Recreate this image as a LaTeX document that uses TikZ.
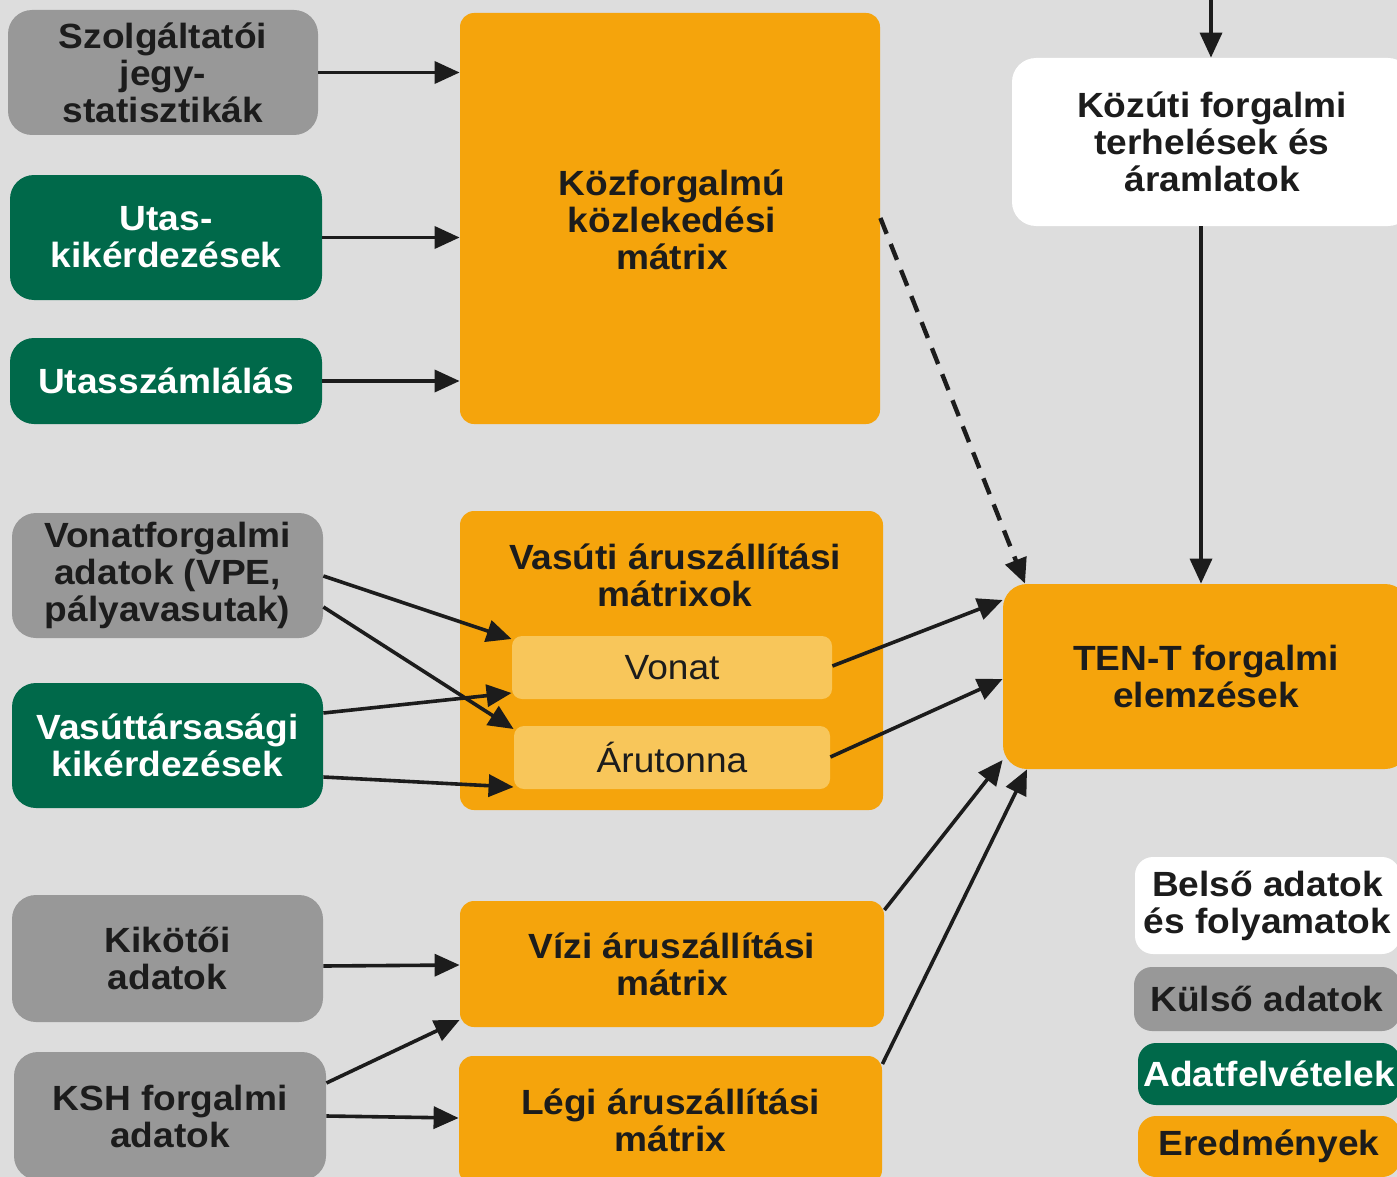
\documentclass[tikz,border=0pt]{standalone}
\usepackage{fontspec}
\setmainfont{Liberation Sans}[FakeStretch=1.06]
\usetikzlibrary{arrows.meta,calc}
\definecolor{bg}{RGB}{221,221,221}
\definecolor{greybox}{RGB}{152,152,152}
\definecolor{greenbox}{RGB}{0,105,74}
\definecolor{orangebox}{RGB}{245,164,12}
\definecolor{lightorange}{RGB}{248,198,90}
\definecolor{ink}{RGB}{28,28,28}
\begin{document}
\begin{tikzpicture}[x=0.5pt,y=-0.5pt,
  box/.style={rectangle,align=center,inner sep=0pt,text=ink,
    font=\fontsize{17.5}{18.5}\selectfont\bfseries},
  side/.style={box,rounded corners=12pt},
  gbox/.style={side,fill=greybox},
  grbox/.style={side,fill=greenbox,text=white},
  wbox/.style={side,fill=white},
  obox/.style={box,rounded corners=7pt,fill=orangebox},
  lobox/.style={box,rounded corners=5pt,fill=lightorange,font=\fontsize{17.5}{18.5}\selectfont},
  arr/.style={draw=ink,line width=1.8pt,-{Triangle[length=12.5pt,width=11pt]}},
  dasharr/.style={arr,line width=2.2pt,dash pattern=on 8.5pt off 5.5pt}
]
\clip (0,0) rectangle (1397,1177);
\fill[bg] (0,0) rectangle (1397,1177);

% left column
\node[gbox,minimum width=155pt,minimum height=62.5pt] (szolg) at (163,72.5) {Szolgáltatói\\jegy-\\statisztikák};
\node[grbox,minimum width=156pt,minimum height=62.5pt] (utask) at (166,237.5) {Utas-\\kikérdezések};
\node[grbox,minimum width=156pt,minimum height=43pt] (utassz) at (166,381) {Utasszámlálás};
\node[gbox,minimum width=155.5pt,minimum height=62.5pt] (vonatf) at (167.5,575.5) {Vonatforgalmi\\adatok (VPE,\\pályavasutak)};
\node[grbox,minimum width=155.5pt,minimum height=62.5pt] (vasutt) at (167.5,745.5) {Vasúttársasági\\kikérdezések};
\node[gbox,minimum width=155.5pt,minimum height=63.5pt] (kikotoi) at (167.5,958.5) {Kikötői\\adatok};
\node[gbox,minimum width=156pt,minimum height=64pt] (ksh) at (170,1116) {KSH forgalmi\\adatok};

% middle column
\node[obox,minimum width=210pt,minimum height=205.5pt] (kozf) at (670,218.5) {};
\node[box] (kozft) at (672,220) {Közforgalmú\\közlekedési\\mátrix};
\node[obox,minimum width=211.5pt,minimum height=149.5pt] (vasuti) at (671.5,660.5) {};
\node[box] (vasutit) at (675,575.5) {Vasúti áruszállítási\\mátrixok};
\node[lobox,minimum width=160pt,minimum height=31.5pt] (vonat) at (672,667.5) {Vonat};
\node[lobox,minimum width=158pt,minimum height=31.5pt] (aru) at (672,757.5) {Árutonna};
\node[obox,minimum width=212pt,minimum height=63pt] (vizi) at (672,964) {Vízi áruszállítási\\mátrix};
\node[obox,minimum width=211.5pt,minimum height=64pt] (legi) at (670.5,1120) {Légi áruszállítási\\mátrix};

% right column
\node[wbox,minimum width=200pt,minimum height=84pt] (kozut) at (1212,142) {Közúti forgalmi\\terhelések és\\áramlatok};
\node[obox,minimum width=203pt,minimum height=92.5pt,rounded corners=12pt] (tent) at (1206,676.5) {TEN-T forgalmi\\elemzések};

% legend
\node[wbox,minimum width=132.5pt,minimum height=48.5pt,rounded corners=9pt] (leg1) at (1267.5,905.5) {Belső adatok\\és folyamatok};
\node[gbox,minimum width=133pt,minimum height=32pt,rounded corners=9pt] (leg2) at (1267,999) {Külső adatok};
\node[grbox,minimum width=131pt,minimum height=31pt,rounded corners=9pt] (leg3) at (1269,1074) {Adatfelvételek};
\node[obox,minimum width=131pt,minimum height=30.5pt,rounded corners=9pt] (leg4) at (1269,1146.5) {Eredmények};

\coordinate (topin) at (1211,-5);

% connectors
\draw[arr] (topin) -- (kozut.north -| topin);
\draw[arr] (kozut.south -| 1201,0) -- (tent.north -| 1201,0);
\draw[dasharr] (kozf.east |- 0,218) -- (tent.north -| 1025,0);

\draw[arr] (szolg.east) -- (kozf.west |- szolg.east);
\draw[arr] (utask.east) -- (kozf.west |- utask.east);
\draw[arr] (utassz.east) -- (kozf.west |- utassz.east);

\draw[arr] (vonatf.east |- 0,576) -- (vonat.west |- 0,639);
\draw[arr] (vonatf.east |- 0,607) -- (aru.west |- 0,729);
\draw[arr] (vasutt.east |- 0,713) -- (vonat.west |- 0,693);
\draw[arr] (vasutt.east |- 0,777) -- (aru.west |- 0,787);

\draw[arr] (vonat.east |- 0,666) -- (tent.west |- 0,600);
\draw[arr] (aru.east |- 0,757) -- (tent.west |- 0,679);
\draw[arr] (vizi.east |- 0,910) -- (tent.west |- 0,760);
\draw[arr] (legi.east |- 0,1064) -- (tent.south -| 1027,0);

\draw[arr] (kikotoi.east |- 0,966) -- (vizi.west |- 0,965);
\draw[arr] (ksh.east |- 0,1083) -- (vizi.west |- 0,1020);
\draw[arr] (ksh.east |- 0,1116) -- (legi.west |- 0,1118);
\end{tikzpicture}
\end{document}
